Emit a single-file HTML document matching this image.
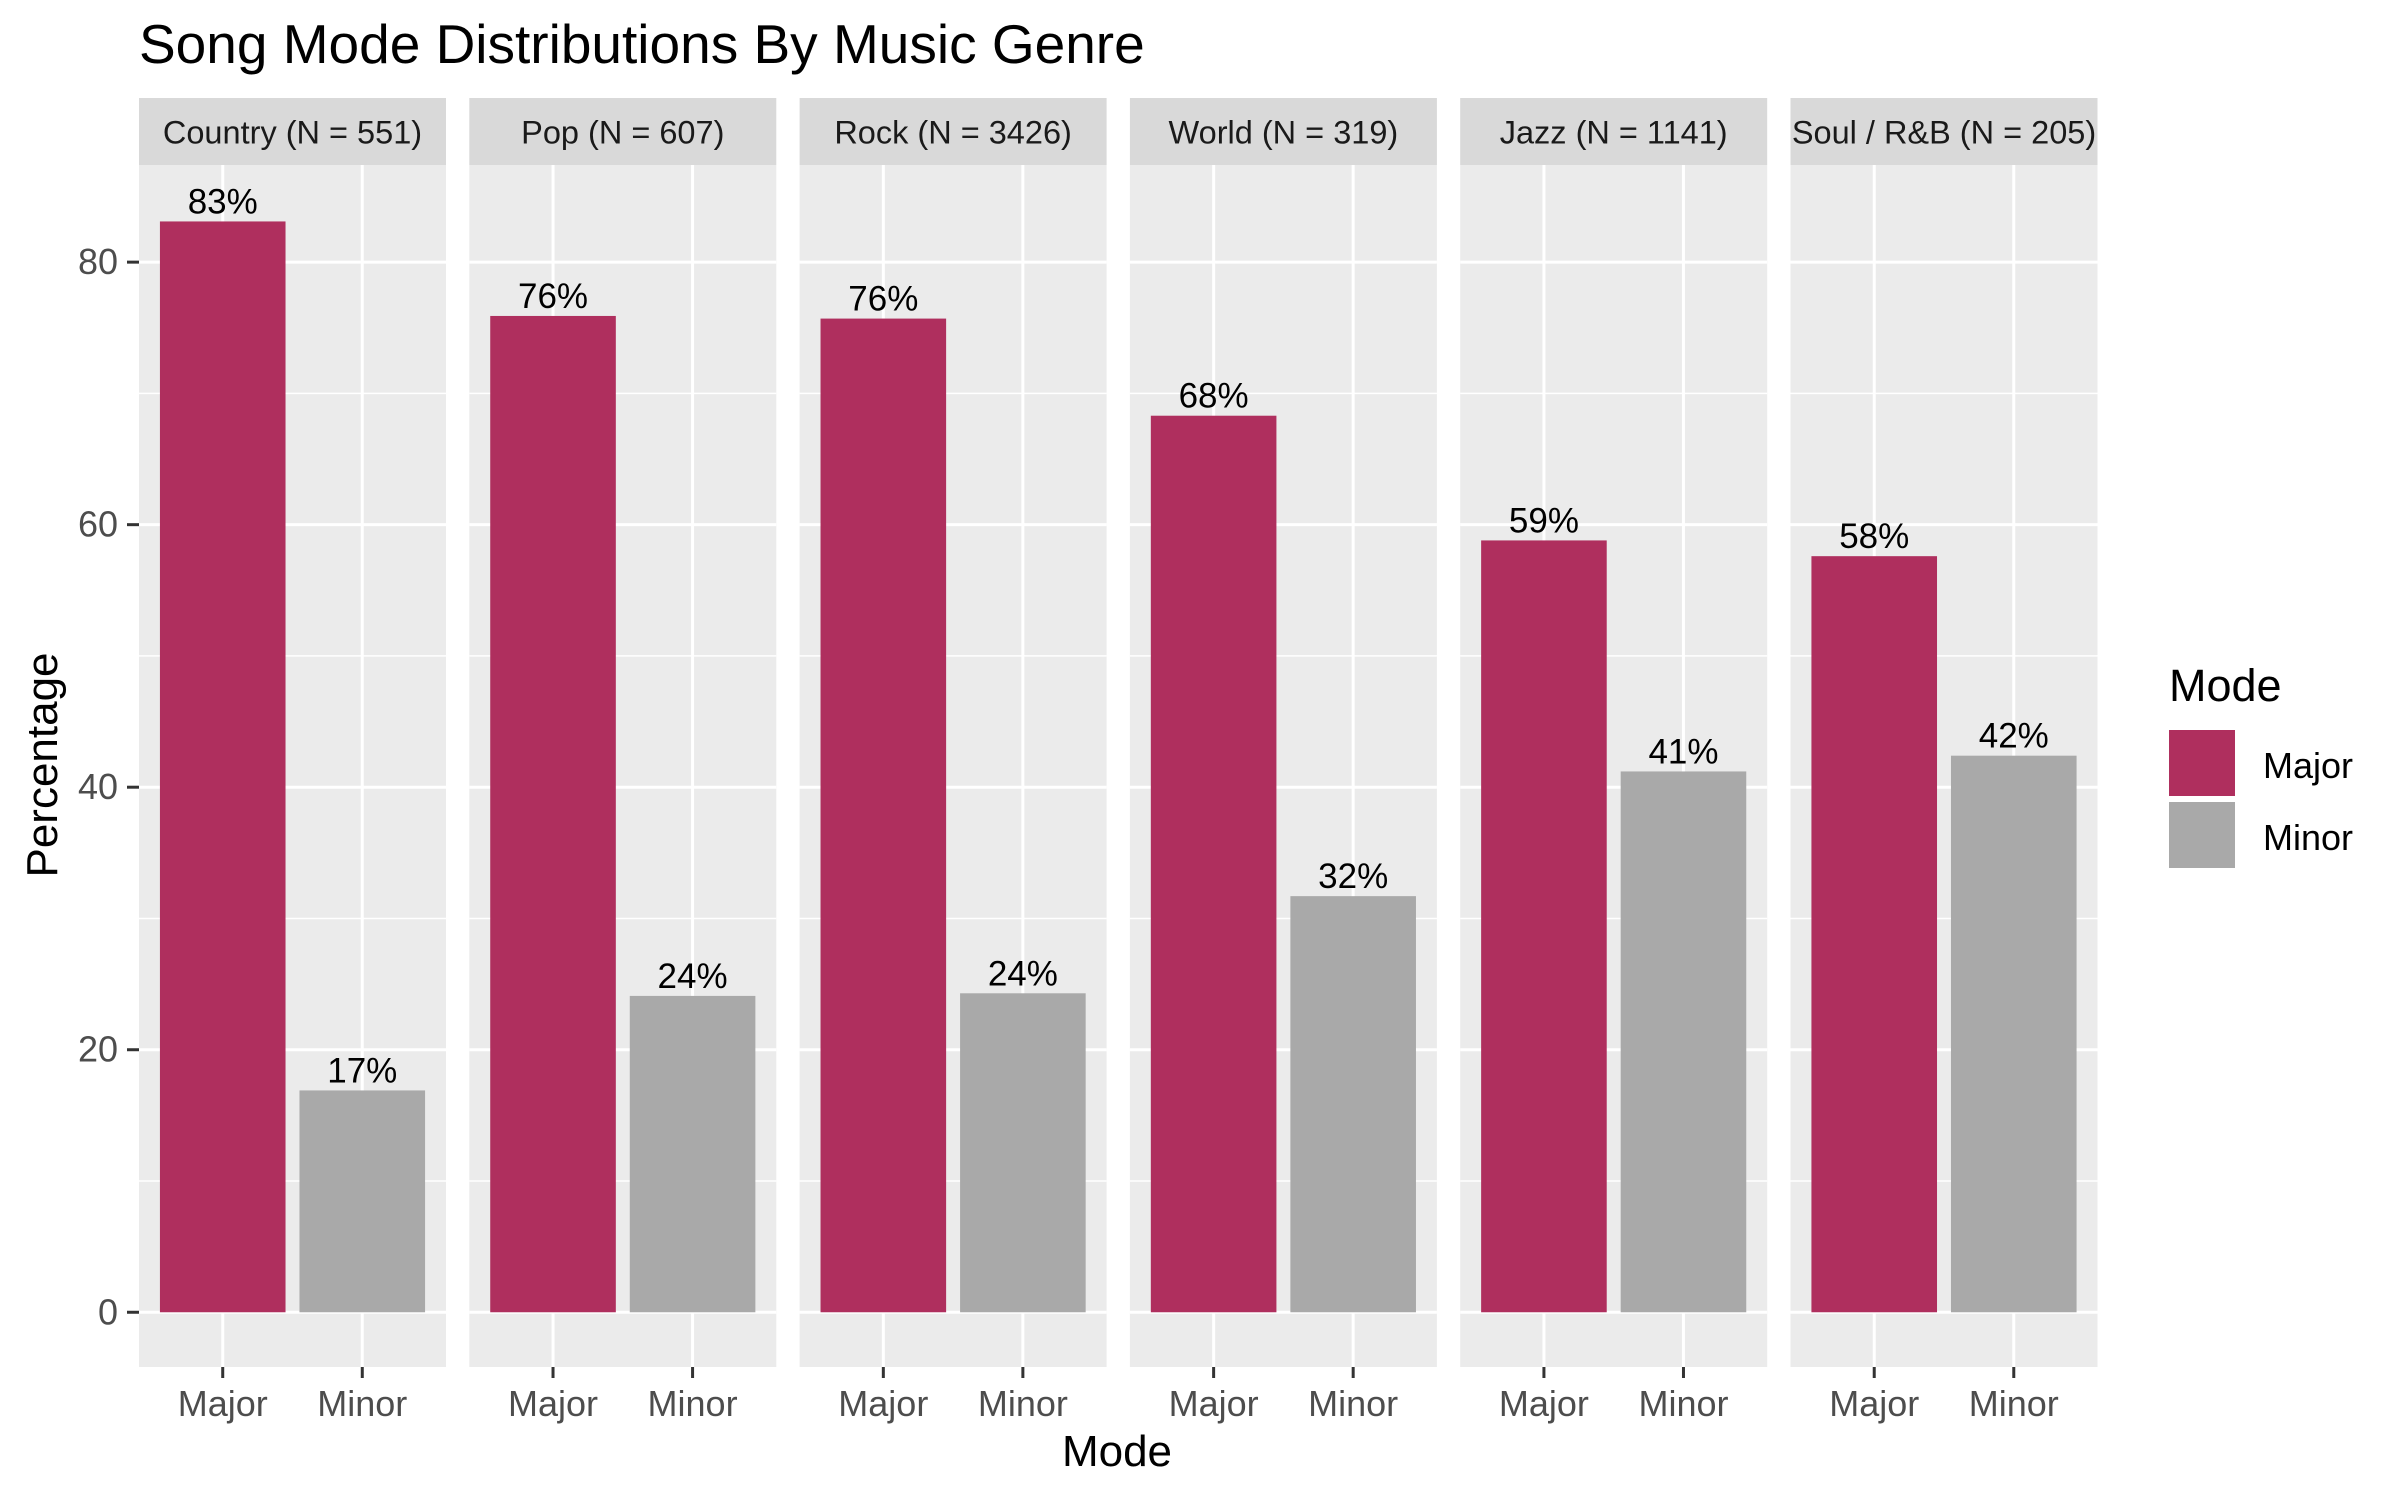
<!DOCTYPE html>
<html><head><meta charset="utf-8"><style>
html,body{margin:0;padding:0;background:#fff;}
svg{display:block;font-family:"Liberation Sans",Arial,sans-serif;}
</style></head><body>
<svg id="chart" width="2400" height="1500" viewBox="0 0 2400 1500" xmlns="http://www.w3.org/2000/svg">
<rect width="2400" height="1500" fill="#fff"/>
<text x="139" y="63" font-size="55" fill="#000">Song Mode Distributions By Music Genre</text>
<g id="panels"></g>
<text x="1117" y="1466" font-size="44" text-anchor="middle" fill="#000">Mode</text>
<text transform="translate(57,765) rotate(-90)" font-size="44" text-anchor="middle" fill="#000">Percentage</text>
<g>
<text x="2169" y="701" font-size="45" fill="#000">Mode</text>
<rect x="2169" y="730" width="66" height="66" fill="#AF2F5E"/>
<rect x="2169" y="802" width="66" height="66" fill="#A9A9A9"/>
<text x="2263" y="778" font-size="36" fill="#000">Major</text>
<text x="2263" y="850" font-size="36" fill="#000">Minor</text>
</g>
</svg>
<script>
const genres = ["Country (N = 551)","Pop (N = 607)","Rock (N = 3426)","World (N = 319)","Jazz (N = 1141)","Soul / R&B (N = 205)"];
const modes = ["Major","Minor"];
const majorValues = [83.1, 75.9, 75.7, 68.3, 58.8, 57.6];
const minorValues = [16.9, 24.1, 24.3, 31.7, 41.2, 42.4];
const yTicks = [0, 20, 40, 60, 80];
const yMinorTicks = [10, 30, 50, 70];

const NS = "http://www.w3.org/2000/svg";
const colors = {Major: "#AF2F5E", Minor: "#A9A9A9"};
const panelLeft0 = 139, panelStep = 330.3, panelW = 307;
const stripTop = 98, panelTop = 165, panelBottom = 1367;
const yMin = -4.17, yMax = 87.4;
function yScale(v){ return panelBottom - (v - yMin) / (yMax - yMin) * (panelBottom - panelTop); }
function xScale(p, cat){ const i = modes.indexOf(cat) + 1; return panelLeft0 + p*panelStep + (i - 0.4) / 2.2 * panelW; }
const bandW = 0.9 / 2.2 * panelW;

function mk(tag, attrs, parent){ const e = document.createElementNS(NS, tag); for (const k in attrs) e.setAttribute(k, attrs[k]); parent.appendChild(e); return e; }
const root = document.getElementById("panels");

yTicks.forEach(t => {
  const y = yScale(t);
  const tl = mk("text", {x: 118, y: y + 12, "font-size": 36, "text-anchor": "end", fill: "#4D4D4D"}, root);
  tl.textContent = t;
  
  
  const tk = mk("line", {x1: 127, x2: 139, y1: y, y2: y, stroke: "#333", "stroke-width": 3}, root);
  
  
});

genres.forEach((g, p) => {
  const left = panelLeft0 + p*panelStep;
  const grp = mk("g", {}, root);
  
  
  const strip = mk("rect", {x: left, y: stripTop, width: panelW, height: panelTop - stripTop, fill: "#D9D9D9"}, grp);
  
  
  const st = mk("text", {x: left + panelW/2, y: (stripTop + panelTop)/2 + 12, "font-size": 32.5, "text-anchor": "middle", fill: "#1A1A1A"}, grp);
  st.textContent = g;
  
  
  const bg = mk("rect", {x: left, y: panelTop, width: panelW, height: panelBottom - panelTop, fill: "#EBEBEB"}, grp);
  
  
  yMinorTicks.forEach(t => {
    const l = mk("line", {x1: left, x2: left + panelW, y1: yScale(t), y2: yScale(t), stroke: "#fff", "stroke-width": 1.5}, grp);
    
    
  });
  yTicks.forEach(t => {
    const l = mk("line", {x1: left, x2: left + panelW, y1: yScale(t), y2: yScale(t), stroke: "#fff", "stroke-width": 3}, grp);
    
    
  });
  modes.forEach(m => {
    const cx = xScale(p, m);
    const l = mk("line", {x1: cx, x2: cx, y1: panelTop, y2: panelBottom, stroke: "#fff", "stroke-width": 3}, grp);
    
    
    const tk = mk("line", {x1: cx, x2: cx, y1: panelBottom, y2: panelBottom + 11, stroke: "#333", "stroke-width": 3}, grp);
    
    
    const xl = mk("text", {x: cx, y: 1416, "font-size": 36, "text-anchor": "middle", fill: "#4D4D4D"}, grp);
    xl.textContent = m;
    
    
  });
  modes.forEach(m => {
    const v = m === "Major" ? majorValues[p] : minorValues[p];
    const cx = xScale(p, m);
    const top = yScale(v), base = yScale(0);
    const b = mk("rect", {x: cx - bandW/2, y: top, width: bandW, height: base - top, fill: colors[m]}, grp);
    
    
    const lb = mk("text", {x: cx, y: top - 8, "font-size": 35, "text-anchor": "middle", fill: "#000"}, grp);
    lb.textContent = Math.round(v) + "%";
    
    
  });
});
</script>
</body></html>
